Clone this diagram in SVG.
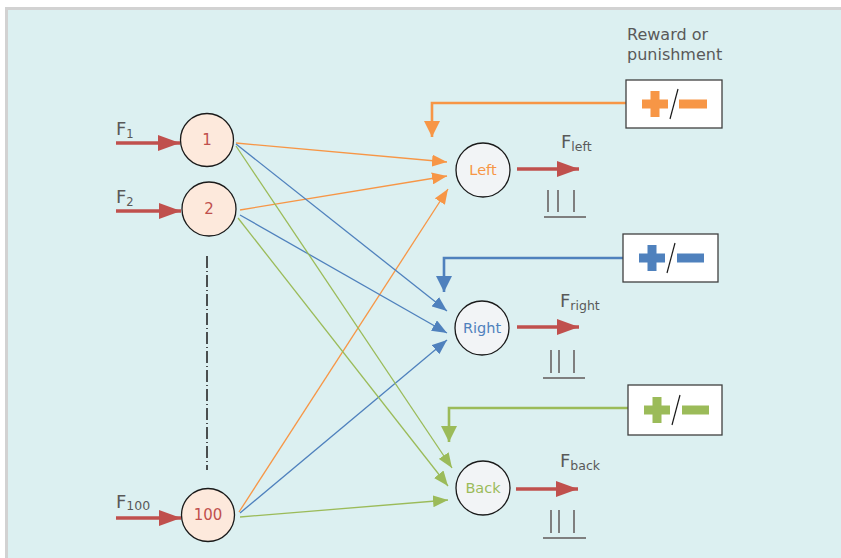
<svg xmlns="http://www.w3.org/2000/svg" width="841" height="558" viewBox="0 0 841 558">
  <defs>
    <style>
      .lbl { font-family: "DejaVu Sans", "Liberation Sans", sans-serif; fill: #595959; }
      .in-node { fill: #fde9dc; stroke: #1a1a1a; stroke-width: 1.3; }
      .out-node { fill: #f2f4f6; stroke: #1a1a1a; stroke-width: 1.3; }
      .num { font-family: "DejaVu Sans", "Liberation Sans", sans-serif; font-size: 15px; fill: #c0504d; text-anchor: middle; }
      .oname { font-family: "DejaVu Sans", "Liberation Sans", sans-serif; font-size: 14.5px; text-anchor: middle; }
      .thin { fill: none; stroke-width: 1.3; }
      .fb { fill: none; stroke-width: 2.6; }
      .red { fill: none; stroke: #c0504d; stroke-width: 3.5; }
      .tally { stroke: #7f7f7f; stroke-width: 2; fill: none; }
      .box { fill: #ffffff; stroke: #404040; stroke-width: 1.3; }
    </style>
    <marker id="hOr" markerUnits="userSpaceOnUse" markerWidth="15" markerHeight="12" refX="15" refY="6" orient="auto"><path d="M0,0 L15,6 L0,12 z" fill="#f79646"/></marker>
    <marker id="hBl" markerUnits="userSpaceOnUse" markerWidth="15" markerHeight="12" refX="15" refY="6" orient="auto"><path d="M0,0 L15,6 L0,12 z" fill="#4f81bd"/></marker>
    <marker id="hGr" markerUnits="userSpaceOnUse" markerWidth="15" markerHeight="12" refX="15" refY="6" orient="auto"><path d="M0,0 L15,6 L0,12 z" fill="#9bbb59"/></marker>
    <marker id="hOrB" markerUnits="userSpaceOnUse" markerWidth="16" markerHeight="16" refX="16" refY="8" orient="auto"><path d="M0,0 L16,8 L0,16 z" fill="#f79646"/></marker>
    <marker id="hBlB" markerUnits="userSpaceOnUse" markerWidth="16" markerHeight="16" refX="16" refY="8" orient="auto"><path d="M0,0 L16,8 L0,16 z" fill="#4f81bd"/></marker>
    <marker id="hGrB" markerUnits="userSpaceOnUse" markerWidth="16" markerHeight="16" refX="16" refY="8" orient="auto"><path d="M0,0 L16,8 L0,16 z" fill="#9bbb59"/></marker>
    <marker id="hRed" markerUnits="userSpaceOnUse" markerWidth="22" markerHeight="16" refX="22" refY="8" orient="auto"><path d="M0,0 L22,8 L0,16 z" fill="#c0504d"/></marker>
  </defs>

  <!-- panel background -->
  <rect x="5" y="7" width="836" height="551" fill="#d2d2d2"/>
  <rect x="8" y="10" width="833" height="548" fill="#dcf0f1"/>

  <!-- input dash-dot ellipsis -->
  <line x1="207" y1="256" x2="207" y2="470" stroke="#1a1a1a" stroke-width="1.5" stroke-dasharray="12,3,1,3"/>

  <g id="connectors">
    <!-- weights from input neurons -->
    <line class="thin" stroke="#f79646" x1="236" y1="143" x2="447" y2="162" marker-end="url(#hOr)"/>
    <line class="thin" stroke="#f79646" x1="240" y1="210" x2="447" y2="176" marker-end="url(#hOr)"/>
    <line class="thin" stroke="#f79646" x1="239" y1="512" x2="448" y2="189" marker-end="url(#hOr)"/>
    <line class="thin" stroke="#4f81bd" x1="236" y1="144" x2="447" y2="311" marker-end="url(#hBl)"/>
    <line class="thin" stroke="#4f81bd" x1="240" y1="215" x2="447" y2="333" marker-end="url(#hBl)"/>
    <line class="thin" stroke="#4f81bd" x1="240" y1="513" x2="447" y2="340" marker-end="url(#hBl)"/>
    <line class="thin" stroke="#9bbb59" x1="236" y1="146" x2="452" y2="468" marker-end="url(#hGr)"/>
    <line class="thin" stroke="#9bbb59" x1="238" y1="218" x2="448" y2="486" marker-end="url(#hGr)"/>
    <line class="thin" stroke="#9bbb59" x1="240" y1="517" x2="448" y2="500" marker-end="url(#hGr)"/>

    <!-- reward / punishment feedback -->
    <polyline class="fb" stroke="#f79646" points="626,103 432,103 432,137" marker-end="url(#hOrB)"/>
    <polyline class="fb" stroke="#4f81bd" points="623,258 444,258 444,292" marker-end="url(#hBlB)"/>
    <polyline class="fb" stroke="#9bbb59" points="628,408 449,408 449,442" marker-end="url(#hGrB)"/>

    <!-- input signals -->
    <line class="red" x1="116" y1="143" x2="180" y2="143" marker-end="url(#hRed)"/>
    <line class="red" x1="116" y1="211" x2="181" y2="211" marker-end="url(#hRed)"/>
    <line class="red" x1="116" y1="518" x2="181" y2="518" marker-end="url(#hRed)"/>

    <!-- output signals -->
    <line class="red" x1="517" y1="169" x2="579" y2="169" marker-end="url(#hRed)"/>
    <line class="red" x1="517" y1="327" x2="579" y2="327" marker-end="url(#hRed)"/>
    <line class="red" x1="516" y1="489" x2="578" y2="489" marker-end="url(#hRed)"/>
  </g>

  <!-- input labels -->
  <text class="lbl" x="116" y="135" font-size="18">F<tspan font-size="11.5" dy="3">1</tspan></text>
  <text class="lbl" x="116" y="203" font-size="18">F<tspan font-size="11.5" dy="3">2</tspan></text>
  <text class="lbl" x="116" y="508" font-size="18">F<tspan font-size="12.5" dy="2">100</tspan></text>

  <!-- input neurons -->
  <g id="in1"><circle class="in-node" cx="207" cy="140" r="26.5"/><text class="num" x="207" y="145">1</text></g>
  <g id="in2"><circle class="in-node" cx="209" cy="209" r="27"/><text class="num" x="209" y="214">2</text></g>
  <g id="in100"><circle class="in-node" cx="208" cy="515" r="26.5"/><text class="num" x="208" y="520">100</text></g>

  <!-- output neurons -->
  <g id="left"><circle class="out-node" cx="483" cy="170" r="27"/><text class="oname" x="483" y="175" fill="#f79646">Left</text></g>
  <g id="right"><circle class="out-node" cx="482" cy="328" r="27"/><text class="oname" x="482" y="333" fill="#4f81bd">Right</text></g>
  <g id="back"><circle class="out-node" cx="483" cy="488" r="27"/><text class="oname" x="483" y="493" fill="#9bbb59">Back</text></g>

  <!-- output labels -->
  <text class="lbl" x="561" y="148" font-size="18">F<tspan font-size="12.5" dy="3">left</tspan></text>
  <text class="lbl" x="560" y="307" font-size="18">F<tspan font-size="12.5" dy="3">right</tspan></text>
  <text class="lbl" x="560" y="467" font-size="18">F<tspan font-size="12.5" dy="3">back</tspan></text>

  <!-- tally marks -->
  <g id="tally-left" class="tally"><path d="M548,190 V212 M558,190 V212 M574,190 V212 M544,217 H586"/></g>
  <g id="tally-right" class="tally"><path d="M551,350 V373 M559,350 V373 M574,350 V373 M543,378 H585"/></g>
  <g id="tally-back" class="tally"><path d="M551,510 V533 M559,510 V533 M574,510 V533 M543,538 H586"/></g>

  <!-- reward / punishment caption -->
  <text class="lbl" x="627" y="40" font-size="16">Reward or</text>
  <text class="lbl" x="627" y="60" font-size="16">punishment</text>

  <!-- reward / punishment boxes -->
  <g id="rp-left" transform="translate(626,80)">
    <rect class="box" x="0" y="0" width="96" height="48"/>
    <path d="M16,19.5 H42 V28.5 H16 Z M24.5,11 H33.5 V37 H24.5 Z" fill="#f79646"/>
    <line x1="52" y1="9" x2="44" y2="39" stroke="#1a1a1a" stroke-width="1.2"/>
    <rect x="53" y="19.5" width="28" height="9" fill="#f79646"/>
  </g>
  <g id="rp-right" transform="translate(623,234)">
    <rect class="box" x="0" y="0" width="95" height="48"/>
    <path d="M16,19.5 H42 V28.5 H16 Z M24.5,11 H33.5 V37 H24.5 Z" fill="#4f81bd"/>
    <line x1="52" y1="9" x2="44" y2="39" stroke="#1a1a1a" stroke-width="1.2"/>
    <rect x="54" y="19.5" width="27" height="9" fill="#4f81bd"/>
  </g>
  <g id="rp-back" transform="translate(628,385)">
    <rect class="box" x="0" y="0" width="94" height="50"/>
    <path d="M16,20.5 H42 V29.5 H16 Z M24.5,12 H33.5 V38 H24.5 Z" fill="#9bbb59"/>
    <line x1="52" y1="10" x2="44" y2="40" stroke="#1a1a1a" stroke-width="1.2"/>
    <rect x="54" y="20.5" width="27" height="9" fill="#9bbb59"/>
  </g>
</svg>
